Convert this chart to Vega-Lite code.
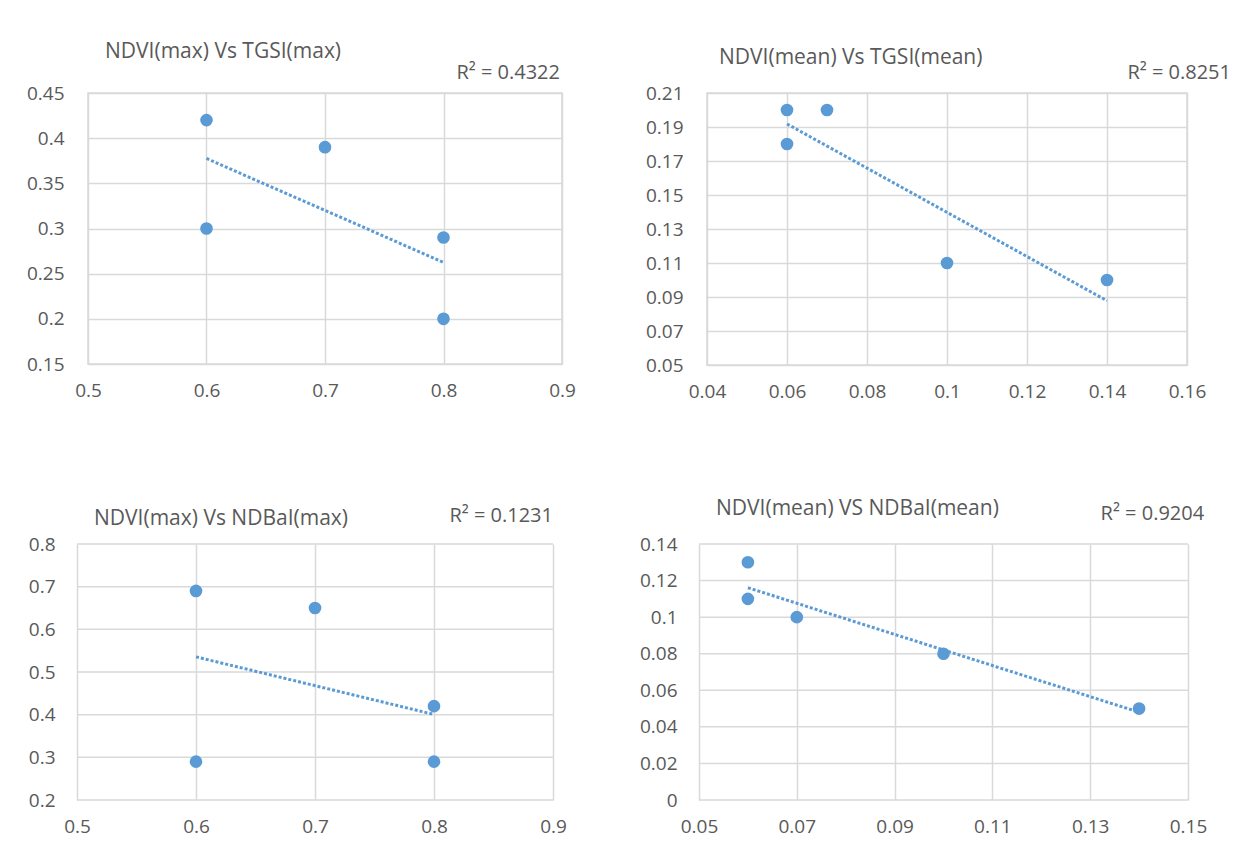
{
  "$schema": "https://vega.github.io/schema/vega-lite/v6.json",
  "background": "white",
  "padding": {"left": 25, "top": 40, "right": 0, "bottom": 0},
  "config": {
    "view": {"stroke": "#d9d9d9", "strokeWidth": 1.5},
    "font": "Open Sans",
    "axis": {"domain": false, "ticks": false, "gridColor": "#d9d9d9", "gridWidth": 1.5, "labelColor": "#595959", "labelFont": "Open Sans", "labelFontSize": 19, "title": null, "labelFlush": false, "labelOverlap": false, "tickCount": 30},
    "axisY": {"labelPadding": 24},
    "axisX": {"labelPadding": 17},
    "title": {"font": "Open Sans", "fontSize": 21, "fontWeight": "normal", "color": "#595959", "anchor": "start", "frame": "group"},
    "circle": {"color": "#5b9bd5", "opacity": 1, "size": 160},
    "line": {"color": "#5b9bd5", "strokeWidth": 3, "strokeDash": [3, 2]},
    "rule": {"color": "#d9d9d9", "strokeWidth": 1.5}
  },
  "datasets": {
    "p1": [{"x": 0.6, "y": 0.42}, {"x": 0.6, "y": 0.30}, {"x": 0.7, "y": 0.39}, {"x": 0.8, "y": 0.29}, {"x": 0.8, "y": 0.20}],
    "p1t": [{"x": 0.6, "y": 0.3775}, {"x": 0.8, "y": 0.2625}],
    "p1r": [{"label": "R² = 0.4322"}],
    "p2": [{"x": 0.06, "y": 0.20}, {"x": 0.06, "y": 0.18}, {"x": 0.07, "y": 0.20}, {"x": 0.10, "y": 0.11}, {"x": 0.14, "y": 0.10}],
    "p2t": [{"x": 0.06, "y": 0.1918}, {"x": 0.14, "y": 0.0878}],
    "p2r": [{"label": "R² = 0.8251"}],
    "p3": [{"x": 0.6, "y": 0.69}, {"x": 0.6, "y": 0.29}, {"x": 0.7, "y": 0.65}, {"x": 0.8, "y": 0.42}, {"x": 0.8, "y": 0.29}],
    "p3t": [{"x": 0.6, "y": 0.5355}, {"x": 0.8, "y": 0.4005}],
    "p3r": [{"label": "R² = 0.1231"}],
    "p3g": [{"v": 0.2}, {"v": 0.3}, {"v": 0.4}, {"v": 0.5}, {"v": 0.6}, {"v": 0.7}, {"v": 0.8}],
    "p4": [{"x": 0.06, "y": 0.13}, {"x": 0.06, "y": 0.11}, {"x": 0.07, "y": 0.10}, {"x": 0.10, "y": 0.08}, {"x": 0.14, "y": 0.05}],
    "p4t": [{"x": 0.06, "y": 0.1161}, {"x": 0.14, "y": 0.0480}],
    "p4r": [{"label": "R² = 0.9204"}],
    "p4g": [{"v": 0}, {"v": 0.02}, {"v": 0.04}, {"v": 0.06}, {"v": 0.08}, {"v": 0.1}, {"v": 0.12}, {"v": 0.14}]
  },
  "columns": 2,
  "align": {"row": "each", "column": "each"},
  "spacing": {"row": 95, "column": 62},
  "concat": [
    {
      "width": 474, "height": 271,
      "title": {"text": "NDVI(max) Vs TGSI(max)", "dx": 17, "offset": 1},
      "layer": [
        {"data": {"name": "p1t"}, "mark": {"type": "line"},
         "encoding": {
          "x": {"field": "x", "type": "quantitative", "scale": {"domain": [0.5, 0.9], "nice": false, "zero": false}, "axis": {"values": [0.5, 0.6, 0.7, 0.8, 0.9], "format": "~g"}},
          "y": {"field": "y", "type": "quantitative", "scale": {"domain": [0.15, 0.45], "nice": false, "zero": false}, "axis": {"values": [0.15, 0.2, 0.25, 0.3, 0.35, 0.4, 0.45], "format": "~g"}}}},
        {"data": {"name": "p1"}, "mark": {"type": "circle"},
         "encoding": {"x": {"field": "x", "type": "quantitative"}, "y": {"field": "y", "type": "quantitative"}}},
        {"data": {"name": "p1r"}, "mark": {"type": "text", "clip": false, "align": "right", "baseline": "middle", "fontSize": 20, "font": "Open Sans", "color": "#595959", "dx": -2},
         "encoding": {"x": {"datum": 0.9, "type": "quantitative"}, "y": {"datum": 0.472, "type": "quantitative"}, "text": {"field": "label", "type": "nominal"}}}
      ]
    },
    {
      "width": 480, "height": 272,
      "title": {"text": "NDVI(mean) Vs TGSI(mean)", "dx": 12, "offset": -5},
      "layer": [
        {"data": {"name": "p2t"}, "mark": {"type": "line"},
         "encoding": {
          "x": {"field": "x", "type": "quantitative", "scale": {"domain": [0.04, 0.16], "nice": false, "zero": false}, "axis": {"values": [0.04, 0.06, 0.08, 0.1, 0.12, 0.14, 0.16], "format": "~g"}},
          "y": {"field": "y", "type": "quantitative", "scale": {"domain": [0.05, 0.21], "nice": false, "zero": false}, "axis": {"values": [0.05, 0.07, 0.09, 0.11, 0.13, 0.15, 0.17, 0.19, 0.21], "format": "~g"}}}},
        {"data": {"name": "p2"}, "mark": {"type": "circle"},
         "encoding": {"x": {"field": "x", "type": "quantitative"}, "y": {"field": "y", "type": "quantitative"}}},
        {"data": {"name": "p2r"}, "mark": {"type": "text", "clip": false, "align": "right", "baseline": "middle", "fontSize": 20, "font": "Open Sans", "color": "#595959"},
         "encoding": {"x": {"datum": 0.171, "type": "quantitative"}, "y": {"datum": 0.2218, "type": "quantitative"}, "text": {"field": "label", "type": "nominal"}}}
      ]
    },
    {
      "width": 465, "height": 256,
      "view": {"stroke": null},
      "title": {"text": "NDVI(max) Vs NDBaI(max)", "dx": 6, "offset": -23},
      "layer": [
        {"data": {"name": "p3g"}, "mark": {"type": "rule"},
         "encoding": {
          "x": {"datum": 0.5, "type": "quantitative", "scale": {"domain": [0.5, 0.9], "nice": false, "zero": false, "range": [-11, 465]}, "axis": {"values": [0.5, 0.6, 0.7, 0.8, 0.9], "format": "~g", "grid": true}},
          "x2": {"datum": 0.9},
          "y": {"field": "v", "type": "quantitative", "scale": {"domain": [0.2, 0.8], "nice": false, "zero": false}, "axis": {"values": [0.2, 0.3, 0.4, 0.5, 0.6, 0.7, 0.8], "format": "~g", "grid": false, "labelPadding": 33}}}},
        {"data": {"name": "p3t"}, "mark": {"type": "line", "clip": false},
         "encoding": {"x": {"field": "x", "type": "quantitative"}, "y": {"field": "y", "type": "quantitative"}}},
        {"data": {"name": "p3"}, "mark": {"type": "circle", "clip": false},
         "encoding": {"x": {"field": "x", "type": "quantitative"}, "y": {"field": "y", "type": "quantitative"}}},
        {"data": {"name": "p3r"}, "mark": {"type": "text", "clip": false, "align": "right", "baseline": "middle", "fontSize": 20, "font": "Open Sans", "color": "#595959"},
         "encoding": {"x": {"datum": 0.9, "type": "quantitative"}, "y": {"datum": 0.866, "type": "quantitative"}, "text": {"field": "label", "type": "nominal"}}}
      ]
    },
    {
      "width": 481, "height": 256,
      "view": {"stroke": null},
      "title": {"text": "NDVI(mean) VS NDBaI(mean)", "dx": 9, "offset": -15},
      "layer": [
        {"data": {"name": "p4g"}, "mark": {"type": "rule"},
         "encoding": {
          "x": {"datum": 0.05, "type": "quantitative", "scale": {"domain": [0.05, 0.15], "nice": false, "zero": false, "range": [-8, 481]}, "axis": {"values": [0.05, 0.07, 0.09, 0.11, 0.13, 0.15], "format": "~g", "grid": true}},
          "x2": {"datum": 0.15},
          "y": {"field": "v", "type": "quantitative", "scale": {"domain": [0, 0.14], "nice": false, "zero": false}, "axis": {"values": [0, 0.02, 0.04, 0.06, 0.08, 0.1, 0.12, 0.14], "format": "~g", "grid": false, "labelPadding": 30}}}},
        {"data": {"name": "p4t"}, "mark": {"type": "line", "clip": false},
         "encoding": {"x": {"field": "x", "type": "quantitative"}, "y": {"field": "y", "type": "quantitative"}}},
        {"data": {"name": "p4"}, "mark": {"type": "circle", "clip": false},
         "encoding": {"x": {"field": "x", "type": "quantitative"}, "y": {"field": "y", "type": "quantitative"}}},
        {"data": {"name": "p4r"}, "mark": {"type": "text", "clip": false, "align": "right", "baseline": "middle", "fontSize": 20, "font": "Open Sans", "color": "#595959"},
         "encoding": {"x": {"datum": 0.1533, "type": "quantitative"}, "y": {"datum": 0.1565, "type": "quantitative"}, "text": {"field": "label", "type": "nominal"}}}
      ]
    }
  ]
}
